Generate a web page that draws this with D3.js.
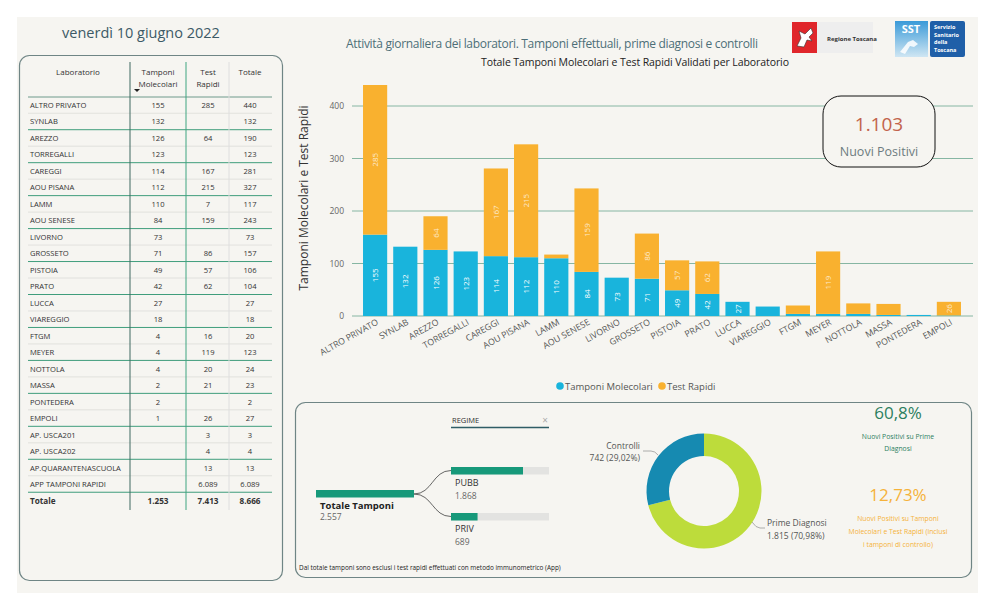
<!DOCTYPE html>
<html>
<head>
<meta charset="utf-8">
<script src="https://cdn.jsdelivr.net/npm/d3@7"></script>
<style>
  body { margin: 0; background: #fff; }
  svg { display: block; font-family: "Open Sans", "Noto Sans", sans-serif; }
</style>
</head>
<body>
<svg id="chart" width="996" height="612"></svg>
<script>
// ---------- data ----------
var labs = ['ALTRO PRIVATO','SYNLAB','AREZZO','TORREGALLI','CAREGGI','AOU PISANA','LAMM','AOU SENESE',
  'LIVORNO','GROSSETO','PISTOIA','PRATO','LUCCA','VIAREGGIO','FTGM','MEYER','NOTTOLA','MASSA',
  'PONTEDERA','EMPOLI','AP. USCA201','AP. USCA202','AP.QUARANTENASCUOLA','APP TAMPONI RAPIDI'];
var molecolari = [155,132,126,123,114,112,110,84,73,71,49,42,27,18,4,4,4,2,2,1,null,null,null,null];
var rapidi = [285,null,64,null,167,215,7,159,null,86,57,62,null,null,16,119,20,21,null,26,3,4,13,6089];
var chartLabs = labs.slice(0, 20);   // labs shown in the bar chart
var yTicks = [0,100,200,300,400];

var nuoviPositivi = 1103;
var regimeNames = ['PUBB','PRIV'];
var regimeValues = [1868, 689];
var donutNames = ['Prime Diagnosi','Controlli'];
var donutValues = [1815, 742];
var pctPrime = '60,8%';
var pctTotale = '12,73%';

var it = d3.formatLocale({decimal: ',', thousands: '.', grouping: [3], currency: ['€','']});
var fmt = it.format(',d');
var fmtPct = it.format('.2%');

var BLUE = '#19b4dc', ORANGE = '#f9b12f', GREEN = '#17997a';

var svg = d3.select('#chart');

// page background
svg.append('rect').attr('x', 17).attr('y', 17).attr('width', 961).attr('height', 576).attr('fill', '#f6f5f1');

//----------HEADER----------
svg.append('text').attr('x', 141).attr('y', 38).attr('text-anchor', 'middle')
  .attr('font-size', 14.5).attr('fill', '#3c5a66').text('venerdì 10 giugno 2022');

svg.append('text').attr('x', 346).attr('y', 48).attr('font-size', 12).attr('fill', '#4d6f78')
  .attr('textLength', 412).text('Attività giornaliera dei laboratori. Tamponi effettuali, prime diagnosi e controlli');

svg.append('text').attr('x', 635).attr('y', 66).attr('text-anchor', 'middle').attr('font-size', 10.5)
  .attr('fill', '#222').attr('textLength', 308).text('Totale Tamponi Molecolari e Test Rapidi Validati per Laboratorio');

// logos (simplified)
var logo = svg.append('g');
logo.append('rect').attr('x', 792).attr('y', 22).attr('width', 81).attr('height', 31).attr('fill', '#eeeeee');
logo.append('rect').attr('x', 792).attr('y', 22).attr('width', 25).attr('height', 31).attr('fill', '#e0262b');
logo.append('path').attr('d', 'M797 46 L801 38 L799 31 L805 34 L811 28 L813 33 L809 37 L812 41 L807 40 L804 47 Z')
  .attr('fill', '#fff').attr('stroke', '#333').attr('stroke-width', 0.6);
logo.append('text').attr('x', 827).attr('y', 41).attr('font-size', 6).attr('font-weight', 'bold')
  .attr('fill', '#333').text('Regione Toscana');
var sstGrad = svg.append('defs').append('linearGradient').attr('id', 'sstg').attr('x1', 0).attr('y1', 0).attr('x2', 0).attr('y2', 1);
sstGrad.append('stop').attr('offset', '0%').attr('stop-color', '#3a9ad8');
sstGrad.append('stop').attr('offset', '100%').attr('stop-color', '#cfe6f3');
logo.append('rect').attr('x', 895).attr('y', 21).attr('width', 33).attr('height', 36).attr('fill', 'url(#sstg)');
logo.append('text').attr('x', 911).attr('y', 33).attr('text-anchor', 'middle').attr('font-size', 11)
  .attr('font-weight', 'bold').attr('fill', '#fff').text('SST');
logo.append('path').attr('d', 'M900 52 L908 42 L913 40 L918 44 L914 47 L910 46 L905 54 Z').attr('fill', '#fff').attr('fill-opacity', 0.85);
logo.append('rect').attr('x', 930).attr('y', 21).attr('width', 35).attr('height', 36).attr('rx', 2).attr('fill', '#1f5fa8');
['Servizio','Sanitario','della','Toscana'].forEach(function(t, i) {
  logo.append('text').attr('x', 934).attr('y', 29 + i * 7.5).attr('font-size', 5.5)
    .attr('font-weight', 'bold').attr('fill', '#fff').text(t);
});

//----------TABLE----------
svg.append('rect').attr('x', 19.5).attr('y', 55.5).attr('width', 263).attr('height', 525).attr('rx', 10)
  .attr('fill', 'none').attr('stroke', '#6f8585').attr('stroke-width', 1.2);

var colX = [28, 130, 186, 229, 272];
var colC = [78, 158, 208, 250];
var tbl = svg.append('g').attr('font-size', 7.6).attr('fill', '#333');

tbl.append('text').attr('x', colC[0]).attr('y', 75).attr('text-anchor', 'middle').attr('font-size', 8).text('Laboratorio');
[['Tamponi','Molecolari'],['Test','Rapidi'],['Totale']].forEach(function(lines, c) {
  lines.forEach(function(l, k) {
    tbl.append('text').attr('x', colC[c + 1]).attr('y', 75 + k * 12).attr('text-anchor', 'middle')
      .attr('font-size', 8).text(l);
  });
});
tbl.append('path').attr('d', 'M134 89 L140 89 L137 92 Z').attr('fill', '#222');

var rowY = d3.scaleLinear().domain([0, labs.length - 1]).range([105, 484]);
var rowH = rowY(1) - rowY(0);

// row dividers
tbl.append('line').attr('x1', colX[0]).attr('x2', colX[4]).attr('y1', 97).attr('y2', 97).attr('stroke', '#6f9a8c');
labs.forEach(function(name, i) {
  var yb = rowY(i) + rowH / 2;
  tbl.append('line').attr('x1', colX[0]).attr('x2', colX[4]).attr('y1', yb).attr('y2', yb)
    .attr('stroke', i % 2 === 1 ? '#3f9d7c' : '#dcdcd8').attr('stroke-width', i % 2 === 1 ? 1 : 0.8);
  var y = rowY(i) + 3;
  tbl.append('text').attr('x', 30).attr('y', y).text(name);
  var m = molecolari[i], r = rapidi[i];
  if (m !== null) tbl.append('text').attr('x', colC[1]).attr('y', y).attr('text-anchor', 'middle').text(fmt(m));
  if (r !== null) tbl.append('text').attr('x', colC[2]).attr('y', y).attr('text-anchor', 'middle').text(fmt(r));
  tbl.append('text').attr('x', colC[3]).attr('y', y).attr('text-anchor', 'middle').text(fmt((m || 0) + (r || 0)));
});
var totY = rowY(labs.length - 1) + rowH + 4;
var totM = d3.sum(molecolari), totR = d3.sum(rapidi);
tbl.append('text').attr('x', 30).attr('y', totY).attr('font-weight', 'bold').attr('font-size', 8.2).text('Totale');
[totM, totR, totM + totR].forEach(function(v, c) {
  tbl.append('text').attr('x', colC[c + 1]).attr('y', totY).attr('text-anchor', 'middle')
    .attr('font-weight', 'bold').attr('font-size', 8.2).text(fmt(v));
});
// column separators
[[colX[1], '#3e6860'], [colX[2], '#3fa580'], [colX[3], '#dedede']].forEach(function(s) {
  tbl.append('line').attr('x1', s[0]).attr('x2', s[0]).attr('y1', 62).attr('y2', 510).attr('stroke', s[1]);
});

//----------BAR CHART----------
var x = d3.scaleBand().domain(chartLabs).range([360, 964]).paddingInner(0.2).paddingOuter(0.1);
var y = d3.scaleLinear().domain([0, 400]).range([316, 106]);

var bars = chartLabs.map(function(name, i) {
  return {name: name, mol: molecolari[i] || 0, rap: rapidi[i] || 0};
});

var grid = svg.append('g');
yTicks.forEach(function(t) {
  grid.append('line').attr('x1', 352).attr('x2', 973).attr('y1', y(t)).attr('y2', y(t))
    .attr('stroke', '#86b6a3').attr('stroke-width', 1);
  grid.append('text').attr('x', 344).attr('y', y(t) + 3).attr('text-anchor', 'end')
    .attr('font-size', 8.5).attr('fill', '#666').text(t);
});

svg.append('text').attr('transform', 'translate(308,198) rotate(-90)').attr('text-anchor', 'middle')
  .attr('font-size', 12).attr('fill', '#333').text('Tamponi Molecolari e Test Rapidi');

var bg = svg.append('g').selectAll('g').data(bars).enter().append('g');
bg.append('rect').attr('x', function(d) { return x(d.name); }).attr('width', x.bandwidth())
  .attr('y', function(d) { return y(d.mol); }).attr('height', function(d) { return y(0) - y(d.mol); })
  .attr('fill', BLUE);
bg.append('rect').attr('x', function(d) { return x(d.name); }).attr('width', x.bandwidth())
  .attr('y', function(d) { return y(d.mol + d.rap); }).attr('height', function(d) { return y(d.mol) - y(d.mol + d.rap); })
  .attr('fill', ORANGE);

// value labels inside segments
bg.filter(function(d) { return d.mol >= 25; }).append('text')
  .attr('transform', function(d) {
    return 'translate(' + (x(d.name) + x.bandwidth() / 2 + 3) + ',' + y(d.mol / 2) + ') rotate(-90)';
  })
  .attr('text-anchor', 'middle').attr('font-size', 8).attr('fill', '#fff')
  .text(function(d) { return d.mol; });
bg.filter(function(d) { return d.rap >= 25; }).append('text')
  .attr('transform', function(d) {
    return 'translate(' + (x(d.name) + x.bandwidth() / 2 + 3) + ',' + y(d.mol + d.rap / 2) + ') rotate(-90)';
  })
  .attr('text-anchor', 'middle').attr('font-size', 8).attr('fill', '#fff').attr('fill-opacity', 0.75)
  .text(function(d) { return d.rap; });

// x labels
svg.append('g').selectAll('text').data(chartLabs).enter().append('text')
  .attr('transform', function(d) { return 'translate(' + (x(d) + x.bandwidth() / 2 + 4) + ',324) rotate(-29)'; })
  .attr('text-anchor', 'end').attr('font-size', 8.8).attr('fill', '#555').text(function(d) { return d; });

// legend
var leg = svg.append('g').attr('font-size', 9.5).attr('fill', '#555');
leg.append('circle').attr('cx', 560).attr('cy', 386).attr('r', 3.8).attr('fill', BLUE);
leg.append('text').attr('x', 565).attr('y', 389.5).text('Tamponi Molecolari');
leg.append('circle').attr('cx', 662).attr('cy', 386).attr('r', 3.8).attr('fill', ORANGE);
leg.append('text').attr('x', 667).attr('y', 389.5).text('Test Rapidi');

// KPI card
svg.append('rect').attr('x', 823).attr('y', 96).attr('width', 112).attr('height', 71).attr('rx', 18)
  .attr('fill', '#f6f5f1').attr('stroke', '#111').attr('stroke-width', 1);
svg.append('text').attr('x', 879).attr('y', 131).attr('text-anchor', 'middle').attr('font-size', 19)
  .attr('fill', '#c2634b').text(fmt(nuoviPositivi));
svg.append('text').attr('x', 879).attr('y', 156).attr('text-anchor', 'middle').attr('font-size', 12.5)
  .attr('fill', '#6d7c80').text('Nuovi Positivi');

//----------BOTTOM PANEL----------
svg.append('rect').attr('x', 295.5).attr('y', 402.5).attr('width', 676).attr('height', 175).attr('rx', 10)
  .attr('fill', 'none').attr('stroke', '#6f8585').attr('stroke-width', 1.2);

// decomposition tree
var tree = svg.append('g');
tree.append('text').attr('x', 452).attr('y', 423).attr('font-size', 7.5).attr('fill', '#333').text('REGIME');
tree.append('text').attr('x', 545).attr('y', 424).attr('text-anchor', 'middle').attr('font-size', 10).attr('fill', '#aaa').text('×');
tree.append('line').attr('x1', 451).attr('x2', 549).attr('y1', 427.5).attr('y2', 427.5).attr('stroke', '#2f5d66').attr('stroke-width', 1.5);

var totTamponi = d3.sum(regimeValues);
var bw = d3.scaleLinear().domain([0, totTamponi]).range([0, 98]);
tree.append('rect').attr('x', 316).attr('y', 490).attr('width', bw(totTamponi)).attr('height', 7.5).attr('fill', GREEN);
tree.append('text').attr('x', 320).attr('y', 509).attr('font-size', 9.5).attr('font-weight', 'bold').attr('fill', '#222').text('Totale Tamponi');
tree.append('text').attr('x', 320).attr('y', 520).attr('font-size', 8.5).attr('fill', '#666').text(fmt(totTamponi));

var childY = [467, 513];
var cw = d3.scaleLinear().domain([0, regimeValues[0]]).range([0, 72]);
regimeNames.forEach(function(n, i) {
  var cy = childY[i];
  tree.append('path')
    .attr('d', d3.linkHorizontal()({source: [414, 494], target: [451, cy + 3.5]}))
    .attr('fill', 'none').attr('stroke', '#555').attr('stroke-width', 0.9);
  tree.append('rect').attr('x', 451).attr('y', cy).attr('width', 98).attr('height', 7.5).attr('fill', '#e3e3e1');
  tree.append('rect').attr('x', 451).attr('y', cy).attr('width', cw(regimeValues[i]))
    .attr('height', 7.5).attr('fill', GREEN);
  tree.append('text').attr('x', 455).attr('y', cy + 19).attr('font-size', 9).attr('fill', '#333').text(n);
  tree.append('text').attr('x', 455).attr('y', cy + 32).attr('font-size', 8.5).attr('fill', '#666').text(fmt(regimeValues[i]));
});

svg.append('text').attr('x', 299).attr('y', 570).attr('font-size', 6.4).attr('fill', '#222')
  .text('Dal totale tamponi sono esclusi i test rapidi effettuati con metodo immunometrico (App)');

// donut
var pie = d3.pie().sort(null)(donutValues);
var arc = d3.arc().innerRadius(35).outerRadius(57.5);
var donut = svg.append('g').attr('transform', 'translate(704,491)');
var donutColors = ['#bddc3b', '#168ab1'];
donut.selectAll('path').data(pie).enter().append('path').attr('d', arc)
  .attr('fill', function(d, i) { return donutColors[i]; });
var donutTot = d3.sum(donutValues);

// labels with leader lines
svg.append('path').attr('d', 'M643 451 L651 451 Q655 451 658 455').attr('fill', 'none').attr('stroke', '#999').attr('stroke-width', 0.8);
svg.append('text').attr('x', 640).attr('y', 449).attr('text-anchor', 'end').attr('font-size', 8.5).attr('fill', '#555').text(donutNames[1]);
svg.append('text').attr('x', 640).attr('y', 461).attr('text-anchor', 'end').attr('font-size', 8.5).attr('fill', '#555')
  .text(fmt(donutValues[1]) + ' (' + fmtPct(donutValues[1] / donutTot) + ')');
svg.append('path').attr('d', 'M752 522 Q756 528 760 528 L765 528').attr('fill', 'none').attr('stroke', '#999').attr('stroke-width', 0.8);
svg.append('text').attr('x', 767).attr('y', 526).attr('font-size', 8.5).attr('fill', '#555').text(donutNames[0]);
svg.append('text').attr('x', 767).attr('y', 539).attr('font-size', 8.5).attr('fill', '#555')
  .text(fmt(donutValues[0]) + ' (' + fmtPct(donutValues[0] / donutTot) + ')');

// right KPIs
var kp = svg.append('g').attr('text-anchor', 'middle');
kp.append('text').attr('x', 898).attr('y', 419).attr('font-size', 17).attr('fill', '#2c7f5f').text(pctPrime);
['Nuovi Positivi su Prime', 'Diagnosi'].forEach(function(t, i) {
  kp.append('text').attr('x', 898).attr('y', 439 + i * 12).attr('font-size', 6.8).attr('fill', '#2c7f5f').text(t);
});
kp.append('text').attr('x', 898).attr('y', 501).attr('font-size', 17).attr('fill', '#f5b23a').text(pctTotale);
['Nuovi Positivi su Tamponi', 'Molecolari e Test Rapidi (inclusi', 'i tamponi di controllo)'].forEach(function(t, i) {
  kp.append('text').attr('x', 898).attr('y', 521 + i * 13).attr('font-size', 6.8).attr('fill', '#f5b23a').text(t);
});
</script>
</body>
</html>
